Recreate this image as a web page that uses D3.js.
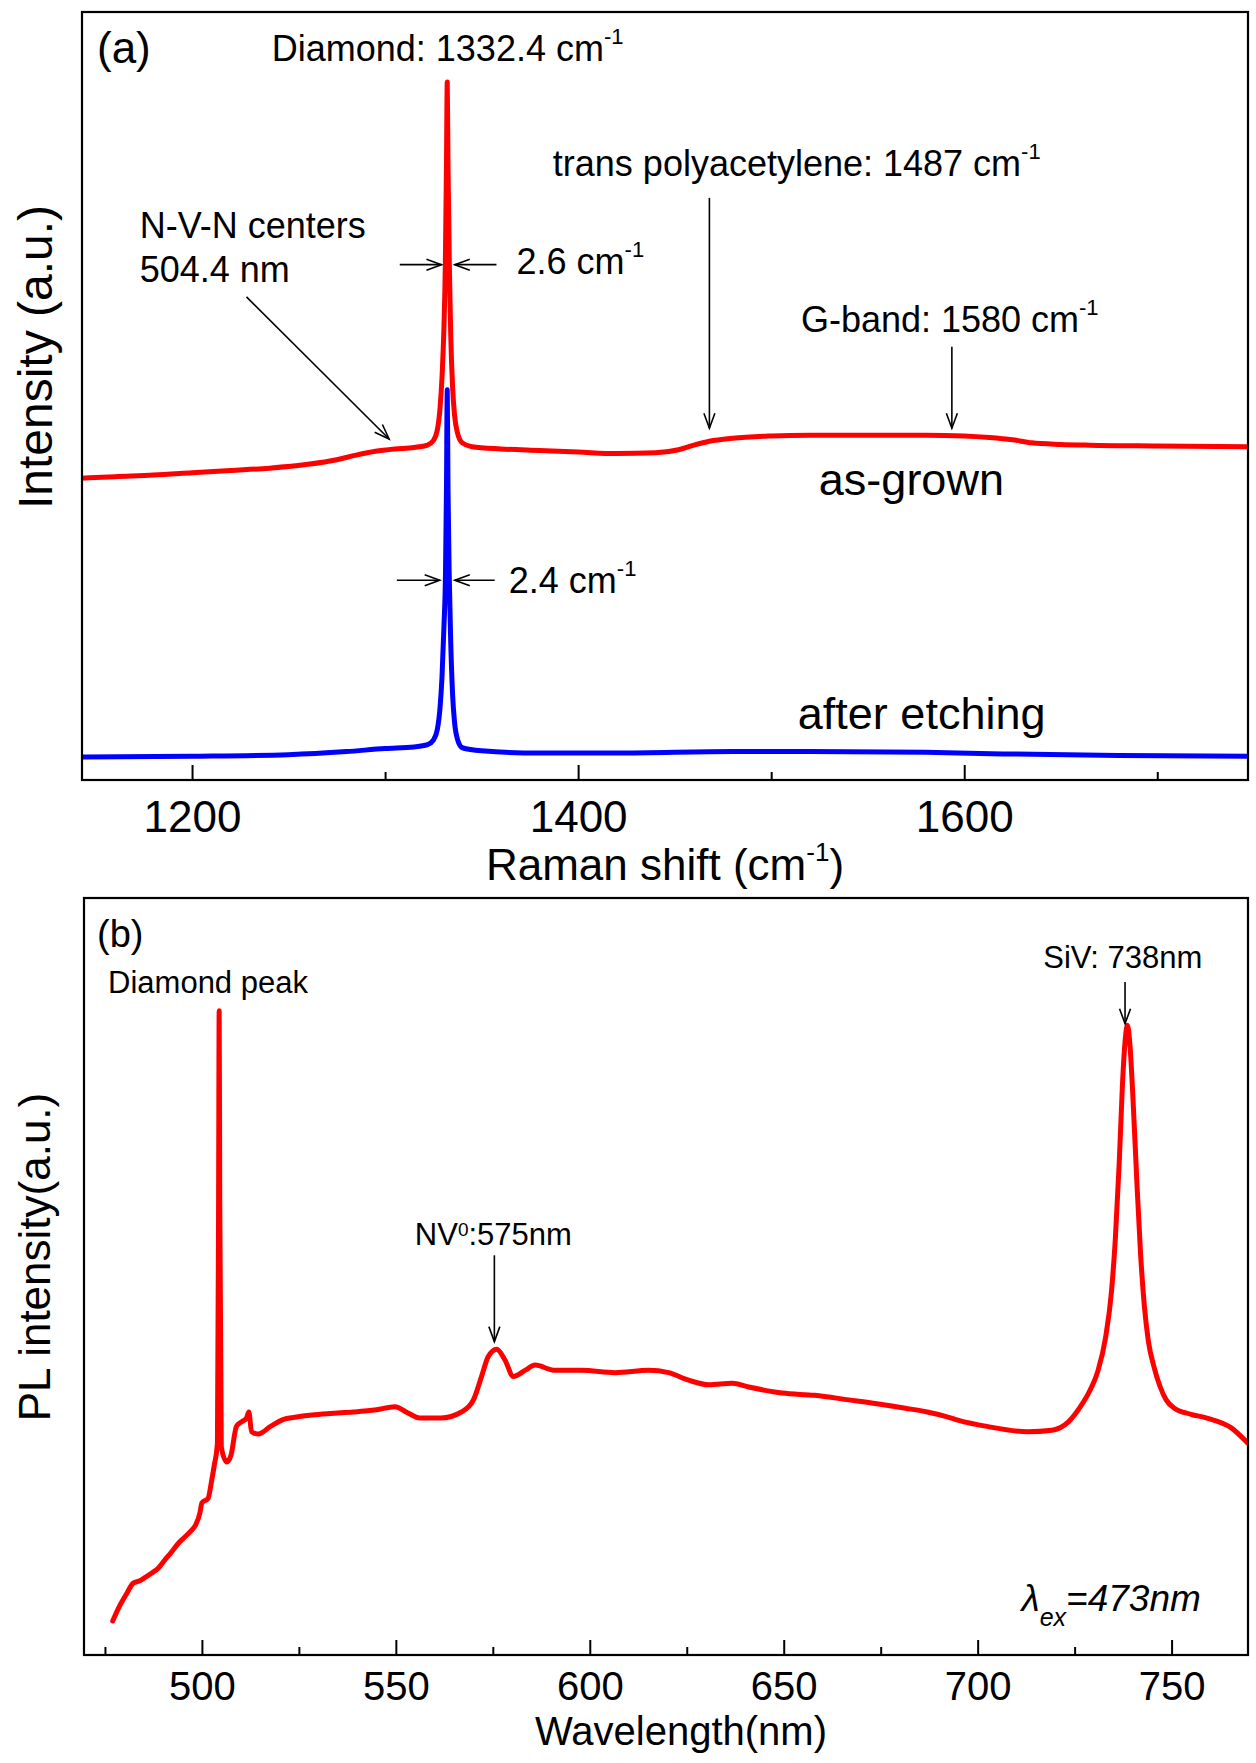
<!DOCTYPE html>
<html><head><meta charset="utf-8">
<script src="https://cdn.jsdelivr.net/npm/d3@7"></script>
<style>
body{margin:0;background:#fff}
svg{display:block}
text{font-family:"Liberation Sans",Arial,Helvetica,sans-serif;fill:#000}
</style>
</head><body>
<svg id="chart" width="1256" height="1763"></svg>
<script>
// ---------------- DATA ----------------
// Panel (a): Raman spectra
const shiftAsGrown = [1143,1160,1180,1200,1220,1240,1260,1275,1285,1295,1305,1315,1322,1325,1327,1328.5,1329.5,1330.5,1331.2,1331.8,1332.2,1332.6,1333.3,1334,1335,1336,1337.5,1340,1345,1360,1380,1400,1420,1440,1452,1460,1468,1480,1500,1520,1550,1580,1600,1613,1625,1635,1650,1665,1700,1747];
const intensityAsGrown = [39.3,39.5,39.7,40.0,40.3,40.6,41.1,41.7,42.3,42.8,43.1,43.3,43.6,44.2,45.5,48.5,52.5,59,67,80,90.9,80,67,58,51,47.5,45.2,43.9,43.4,43.1,42.9,42.7,42.5,42.6,43.0,43.6,44.1,44.5,44.8,44.9,44.9,44.9,44.8,44.6,44.3,43.9,43.7,43.6,43.5,43.4];
const shiftEtched = [1143,1200,1250,1280,1300,1315,1322,1325,1327,1328.5,1329.5,1330.5,1331.3,1331.8,1332.2,1332.6,1333.2,1334,1335,1336,1337.5,1340,1350,1380,1420,1480,1520,1580,1620,1680,1747];
const intensityEtched = [3.0,3.1,3.3,3.7,4.1,4.3,4.6,5.2,6.5,9.5,13.5,20,27,38,50.8,38,27,18,11,7.5,5.3,4.2,3.8,3.5,3.5,3.7,3.7,3.6,3.4,3.2,3.1];
const shiftDomain = [1143,1747];
const shiftMajorTicks = [1200,1400,1600];
const shiftMinorTicks = [1300,1500,1700];

// Panel (b): PL spectrum
const plWavelength = [477,478.5,480.7,482.3,484,485.5,487,488.8,490.5,492,494,495.2,497,498.4,499.5,500,501.6,502.5,503.2,504,504.3,504.45,504.6,505,506.4,507.5,508.9,510.2,511.5,512.1,512.8,514.5,517.7,520.9,524,528.4,533,539,545,549.8,553,556.2,561.6,566.9,570,572.1,573.8,576,578.1,580.3,583.3,585.9,591,598,606.5,615.2,620.3,625.5,630.7,636.7,641,649.6,658,666.8,674,681.4,687,691.9,695.1,702.4,712.9,719.2,723.4,726.5,729,731,733,734.5,735.5,736.5,737.3,738,738.6,739.2,740,741,742,743,744,745.5,747,748.6,750.7,755,759.1,765.4,769.6];
const plIntensity = [4.5,6.2,8.2,9.5,9.8,10.3,10.8,11.5,12.6,13.5,14.8,15.4,16.3,17.2,18.8,20.1,20.7,23,25.1,28,60,85.1,60,27.5,25.5,26.4,30.2,30.8,31.3,32.1,29.5,29.2,30.2,31.1,31.4,31.7,31.9,32.1,32.4,32.8,32.0,31.3,31.3,32.1,33.7,36.8,39.4,40.4,39.0,36.8,37.6,38.3,37.6,37.6,37.3,37.6,37.3,36.3,35.7,35.9,35.4,34.6,34.3,33.7,33.2,32.6,32.1,31.5,31.0,30.2,29.5,29.7,30.8,32.8,35,37.5,42,48,55,65,75,81,83.2,81,74,63,53,46,41.5,38,35.5,33.7,32.6,31.8,31.3,30.0,28];
const wlDomain = [469.6,769.7];
const wlMajorTicks = [500,550,600,650,700,750];
const wlMinorTicks = [475,525,575,625,675,725];

// ---------------- LAYOUT ----------------
const svg = d3.select("#chart");
const FONT = '"Liberation Sans",Arial,Helvetica,sans-serif';
const A = {left:82, right:1248, top:12, bottom:780};
const B = {left:84, right:1248, top:898, bottom:1655};

const xA = d3.scaleLinear().domain(shiftDomain).range([A.left, A.right]);
const yA = d3.scaleLinear().domain([0,100]).range([A.bottom, A.top]);
const xB = d3.scaleLinear().domain(wlDomain).range([B.left, B.right]);
const yB = d3.scaleLinear().domain([0,100]).range([B.bottom, B.top]);

const defs = svg.append("defs");
const mk = defs.append("marker").attr("id","arrowOpen")
  .attr("markerUnits","userSpaceOnUse").attr("markerWidth",40).attr("markerHeight",40)
  .attr("viewBox","-20 -20 40 40").attr("refX",0).attr("refY",0).attr("orient","auto")
  .style("overflow","visible");
mk.append("path").attr("d","M-15,-5.5 L0,0 L-15,5.5").attr("fill","none").attr("stroke","#000").attr("stroke-width",1.6);

function clip(id, P){
  defs.append("clipPath").attr("id",id).append("rect")
    .attr("x",P.left).attr("y",P.top).attr("width",P.right-P.left).attr("height",P.bottom-P.top);
}
clip("clipA",A); clip("clipB",B);

function drawAxis(P, x, major, minor, labelBaseline, fontSize){
  const gMaj = svg.append("g").attr("transform",`translate(0,${P.bottom})`)
    .call(d3.axisBottom(x).tickValues(major).tickSize(-15).tickSizeOuter(0).tickFormat(d3.format("d")));
  gMaj.select(".domain").remove();
  gMaj.selectAll(".tick line").attr("stroke","#000").attr("stroke-width",2);
  gMaj.selectAll(".tick text").attr("y",labelBaseline).attr("dy",null)
    .attr("font-size",fontSize).attr("font-family",FONT).attr("fill","#000");
  const gMin = svg.append("g").attr("transform",`translate(0,${P.bottom})`)
    .call(d3.axisBottom(x).tickValues(minor).tickSize(-8).tickSizeOuter(0).tickFormat(""));
  gMin.select(".domain").remove();
  gMin.selectAll(".tick line").attr("stroke","#000").attr("stroke-width",2);
}

function frame(P){
  svg.append("rect").attr("x",P.left).attr("y",P.top).attr("width",P.right-P.left).attr("height",P.bottom-P.top)
    .attr("fill","none").attr("stroke","#000").attr("stroke-width",2.2);
}

function line(xs, ys, x, y, color, clipId){
  const pts = xs.map((v,i)=>[v, ys[i]]);
  svg.append("path").datum(pts)
    .attr("clip-path",`url(#${clipId})`)
    .attr("d", d3.line().x(d=>x(d[0])).y(d=>y(d[1])).curve(d3.curveMonotoneX))
    .attr("fill","none").attr("stroke",color).attr("stroke-width",5)
    .attr("stroke-linejoin","round").attr("stroke-linecap","round");
}

// parts: array of [text, kind] kind: undefined | "sup" | "sub"
function label(x, y, parts, size, opts={}){
  const t = svg.append("text").attr("x",x).attr("y",y).attr("font-size",size)
    .attr("text-anchor",opts.anchor||"start");
  if(opts.italic) t.attr("font-style","italic");
  if(opts.rotate) t.attr("transform",`rotate(${opts.rotate},${x},${y})`);
  let shift = 0;
  parts.forEach(([s,kind])=>{
    const ts = t.append("tspan").text(s);
    let target = 0, fs = size;
    if(kind==="sup"){ target = -opts.supRaise; fs = opts.supSize; }
    if(kind==="sub"){ target = opts.subDrop; fs = opts.subSize; }
    ts.attr("font-size",fs);
    if(target!==shift){ ts.attr("dy", target-shift); shift = target; }
  });
  return t;
}

function arrow(x1,y1,x2,y2){
  svg.append("line").attr("x1",x1).attr("y1",y1).attr("x2",x2).attr("y2",y2)
    .attr("stroke","#000").attr("stroke-width",1.6).attr("marker-end","url(#arrowOpen)");
}

// ---------------- PANEL (a) ----------------
line(shiftAsGrown, intensityAsGrown, xA, yA, "#ff0000", "clipA");
line(shiftEtched, intensityEtched, xA, yA, "#0000ff", "clipA");
frame(A);
drawAxis(A, xA, shiftMajorTicks, shiftMinorTicks, 52, 44);

const supA = {supSize:22, supRaise:17};
label(97, 63, [["(a)"]], 44);
label(xA(1241.3), yA(93.6), [["Diamond: 1332.4 cm"],["-1","sup"]], 36, supA);
label(xA(1386.9), yA(78.6), [["trans polyacetylene: 1487 cm"],["-1","sup"]], 36, supA);
label(xA(1515.4), yA(58.3), [["G-band: 1580 cm"],["-1","sup"]], 36, supA);
label(xA(1172.9), yA(70.6), [["N-V-N centers"]], 36);
label(xA(1172.9), yA(64.9), [["504.4 nm"]], 36);
label(xA(1368.1), yA(65.9), [["2.6 cm"],["-1","sup"]], 36, supA);
label(xA(1364.1), yA(24.4), [["2.4 cm"],["-1","sup"]], 36, supA);
label(xA(1524.7), yA(37.1), [["as-grown"]], 45);
label(xA(1513.8), yA(6.6), [["after etching"]], 45);

arrow(xA(1228.2), yA(62.9), xA(1302.1), yA(44.4));
arrow(xA(1468), yA(75.8), xA(1468), yA(45.8));
arrow(xA(1593.6), yA(56.4), xA(1593.6), yA(45.8));
arrow(xA(1307.6), yA(67.1), xA(1329.2), yA(67.1));
arrow(xA(1357.7), yA(67.1), xA(1336.1), yA(67.1));
arrow(xA(1306.1), yA(26.0), xA(1328.3), yA(26.0));
arrow(xA(1356.8), yA(26.0), xA(1336.1), yA(26.0));

// axis titles (a)
label((A.left+A.right)/2, 880, [["Raman shift (cm"],["-1","sup"],[")"]], 44, {anchor:"middle", supSize:26, supRaise:19});
label(52, 357, [["Intensity (a.u.)"]], 48, {anchor:"middle", rotate:-90});

// ---------------- PANEL (b) ----------------
line(plWavelength, plIntensity, xB, yB, "#ff0000", "clipB");
frame(B);
drawAxis(B, xB, wlMajorTicks, wlMinorTicks, 45, 40);

label(97, 947, [["(b)"]], 38);
label(xB(475.8), yB(87.5), [["Diamond peak"]], 31);
label(xB(554.9), yB(54.2), [["NV"],["0","sup"],[":575nm"]], 31, {supSize:19, supRaise:9});
label(xB(716.9), yB(90.7), [["SiV: 738nm"]], 31);
label(xB(711.3), yB(5.85), [["λ"],["ex","sub"],["=473nm"]], 37, {italic:true, subSize:25, subDrop:15});
arrow(xB(575.4), yB(52.8), xB(575.4), yB(41.4));
arrow(xB(738.0), yB(88.9), xB(738.0), yB(83.4));

label(681, 1745, [["Wavelength(nm)"]], 40, {anchor:"middle"});
label(50, 1257, [["PL intensity(a.u.)"]], 44, {anchor:"middle", rotate:-90});
</script>
</body></html>
